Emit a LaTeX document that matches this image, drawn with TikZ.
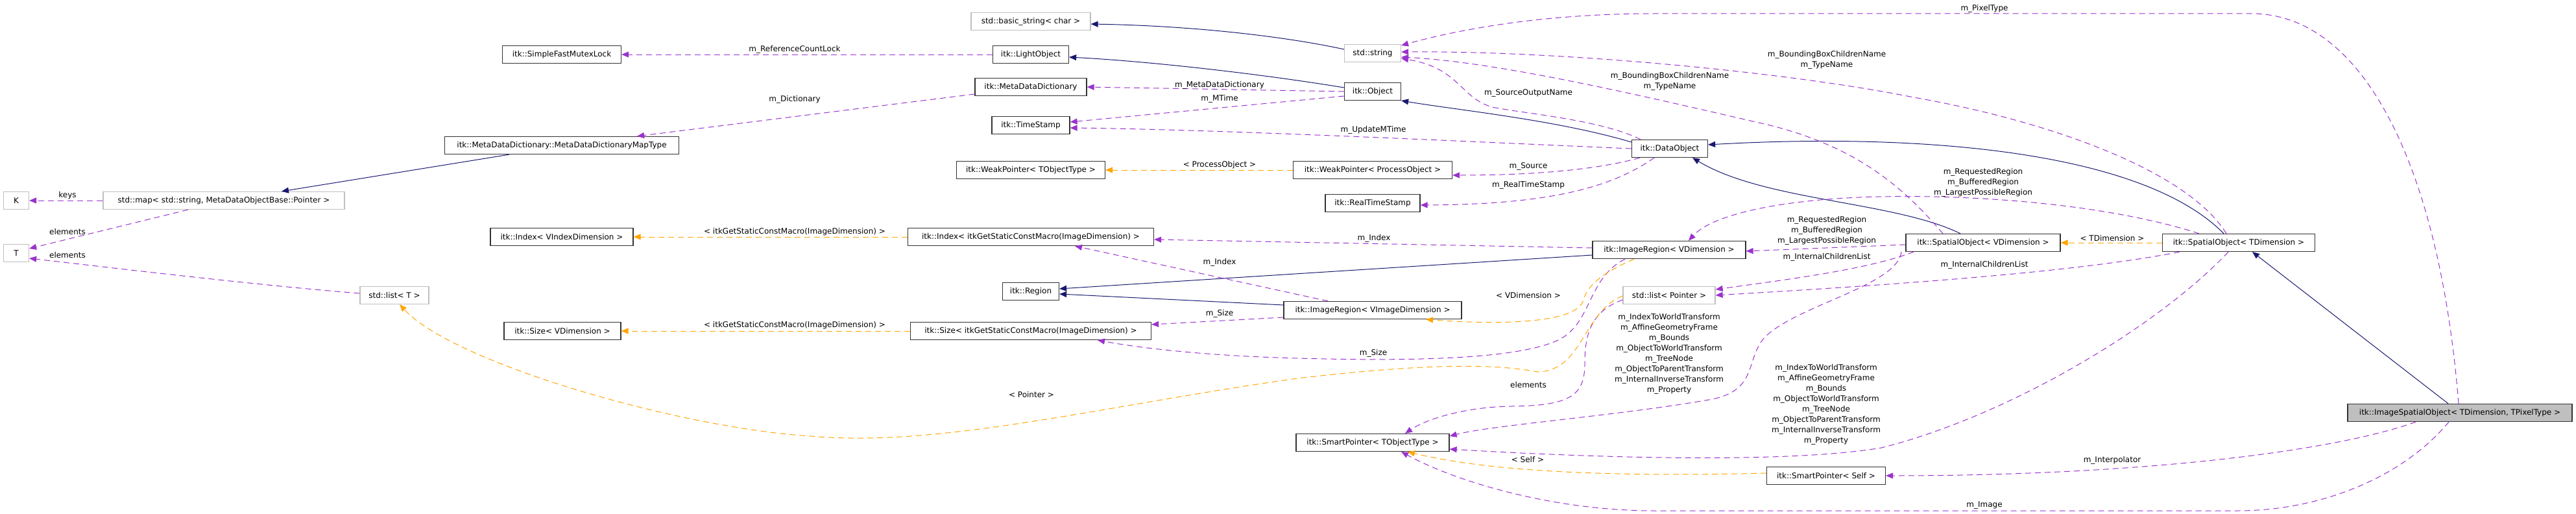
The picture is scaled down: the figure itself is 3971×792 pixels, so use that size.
\documentclass[tikz,border=0pt]{standalone}
\usepackage{fontspec}
\setmainfont{DejaVu Sans}
\usepackage{xcolor}
\usetikzlibrary{arrows.meta}
\definecolor{inhblue}{HTML}{191970}
\definecolor{mempurple}{HTML}{9A32CD}
\definecolor{tplorange}{HTML}{FFA500}
\definecolor{extgray}{HTML}{BFBFBF}
\tikzset{
  cls/.style={draw=black!80,fill=white,line width=1.2pt,minimum height=27pt,inner xsep=4pt,inner ysep=0pt,font=\fontsize{12}{16}\selectfont},
  ext/.style={cls,draw=extgray},
  cur/.style={cls,fill=extgray},
  lbl/.style={font=\fontsize{12}{16}\selectfont,align=center,inner sep=0pt},
  tip/.style={-{Triangle[length=11pt,width=9pt]}},
  inh/.style={tip,color=inhblue,line width=1pt},
  mem/.style={tip,color=mempurple,line width=1pt,dash pattern=on 9pt off 6pt},
  tpl/.style={tip,color=tplorange,line width=1pt,dash pattern=on 9pt off 6pt}
}

\begin{document}
\begin{tikzpicture}[x=1pt,y=-1pt]
\useasboundingbox (0,0) rectangle (3971,792);

\node[ext,minimum width=184pt] (bstr) at (1589,33) {std::basic\_string< char >};
\node[cls,minimum width=183pt] (lock) at (866,84) {itk::SimpleFastMutexLock};
\node[cls,minimum width=117pt] (lobj) at (1589,84) {itk::LightObject};
\node[cls,minimum width=172pt] (mdd) at (1589,134) {itk::MetaDataDictionary};
\node[cls,minimum width=120pt] (tstamp) at (1589,193) {itk::TimeStamp};
\node[cls,minimum width=361pt] (mapt) at (866,224) {itk::MetaDataDictionary::MetaDataDictionaryMapType};
\node[ext,minimum width=87pt] (str) at (2116,82) {std::string};
\node[cls,minimum width=87pt] (obj) at (2116,141) {itk::Object};
\node[cls,minimum width=229pt] (wpt) at (1589,262) {itk::WeakPointer< TObjectType >};
\node[cls,minimum width=245pt] (wpp) at (2116,262) {itk::WeakPointer< ProcessObject >};
\node[cls,minimum width=117pt] (dobj) at (2574,229) {itk::DataObject};
\node[cls,minimum width=146pt] (rts) at (2116,313) {itk::RealTimeStamp};
\node[ext,minimum width=39pt] (keyk) at (25,309) {K};
\node[ext,minimum width=372pt] (smap) at (345,309) {std::map< std::string, MetaDataObjectBase::Pointer >};
\node[ext,minimum width=39pt] (elt) at (25,390) {T};
\node[cls,minimum width=220pt] (idxv) at (866,365) {itk::Index< VIndexDimension >};
\node[cls,minimum width=379pt] (idxm) at (1589,365) {itk::Index< itkGetStaticConstMacro(ImageDimension) >};
\node[cls,minimum width=236pt] (irv) at (2573,385) {itk::ImageRegion< VDimension >};
\node[cls,minimum width=238pt] (sov) at (3057,374) {itk::SpatialObject< VDimension >};
\node[cls,minimum width=235pt] (sot) at (3451,374) {itk::SpatialObject< TDimension >};
\node[cls,minimum width=87pt] (reg) at (1589,449) {itk::Region};
\node[ext,minimum width=106pt] (lstt) at (608,455) {std::list< T >};
\node[ext,minimum width=142pt] (lstp) at (2573,455) {std::list< Pointer >};
\node[cls,minimum width=274pt] (irvi) at (2116,478) {itk::ImageRegion< VImageDimension >};
\node[cls,minimum width=180pt] (szv) at (867,510) {itk::Size< VDimension >};
\node[cls,minimum width=371pt] (szm) at (1589,510) {itk::Size< itkGetStaticConstMacro(ImageDimension) >};
\node[cls,minimum width=236pt] (spt) at (2116,682) {itk::SmartPointer< TObjectType >};
\node[cls,minimum width=183pt] (sps) at (2815,733) {itk::SmartPointer< Self >};
\node[cur,minimum width=346pt] (iso) at (3792,636) {itk::ImageSpatialObject< TDimension, TPixelType >};

% inheritance
\draw[inh] ([yshift=6pt]str.west) .. controls (1990,58) and (1850,40) .. ([yshift=-4pt]bstr.east);
\draw[inh] ([yshift=6pt]obj.west) .. controls (1950,115) and (1780,95) .. ([yshift=-4pt]lobj.east);
\draw[inh] ([yshift=10pt]dobj.west) .. controls (2400,185) and (2250,170) .. (obj.south east);
\draw[inh] ([xshift=-23pt]sot.north) .. controls (3300,230) and (2950,205) .. ([yshift=6pt]dobj.east);
\draw[inh] ([xshift=-35pt]sov.north) .. controls (2920,310) and (2720,310) .. ([xshift=35pt]dobj.south);
\draw[inh] ([yshift=-8pt]irv.west) -- ([yshift=4pt]reg.east);
\draw[inh] ([yshift=8pt]irvi.west) -- ([yshift=-4pt]reg.east);
\draw[inh] ([xshift=-18pt]iso.north) -- ([xshift=21pt]sot.south);
\draw[inh] ([xshift=-81pt]mapt.south) -- ([xshift=89pt]smap.north);

% members
\draw[mem] (lobj.west) -- (lock.east);
\node[lbl] (lreflock) at (1225,76) {m\_ReferenceCountLock};
\draw[mem] ([yshift=-11pt]mdd.west) -- ([xshift=116pt]mapt.north);
\node[lbl] (ldict) at (1225,153) {m\_Dictionary};
\draw[mem] (obj.west) -- (mdd.east);
\node[lbl] (lmdd) at (1880,131) {m\_MetaDataDictionary};
\draw[mem] ([yshift=-7pt]obj.west) -- ([yshift=5pt]tstamp.east);
\node[lbl] (lmtime) at (1880,152) {m\_MTime};
\draw[mem] (dobj.west) .. controls (2300,220) and (1900,200) .. ([yshift=-4pt]tstamp.east);
\node[lbl] (lupd) at (2117,200) {m\_UpdateMTime};
\draw[mem] ([xshift=-45pt]dobj.north) .. controls (2470,185) and (2350,175) .. (2300,165) .. controls (2250,150) and (2250,105) .. ([yshift=-8pt]str.east);
\node[lbl] (lsrcout) at (2356,143) {m\_SourceOutputName};
\draw[mem] ([xshift=-46pt]dobj.south) .. controls (2460,262) and (2360,270) .. ([yshift=-8pt]wpp.east);
\node[lbl] (lsrc) at (2356,256) {m\_Source};
\draw[mem] ([xshift=-24pt]dobj.south) .. controls (2490,285) and (2400,315) .. ([yshift=-3pt]rts.east);
\node[lbl] (lrts) at (2356,285) {m\_RealTimeStamp};
\draw[mem] ([yshift=3pt]irv.west) -- ([yshift=-4pt]idxm.east);
\node[lbl] (lidxa) at (2118,367) {m\_Index};
\draw[mem] ([xshift=-69pt]irvi.north) -- ([xshift=68pt]idxm.south);
\node[lbl] (lidxb) at (1880,404) {m\_Index};
\draw[mem] ([yshift=-11pt]irvi.west) -- ([yshift=10pt]szm.east);
\node[lbl] (lsizeb) at (1880,483) {m\_Size};
\draw[mem] ([xshift=-68pt]irv.south) .. controls (2445,430) and (2455,500) .. (2400,525) .. controls (2330,556) and (2150,556) .. (2000,552) .. controls (1850,548) and (1750,535) .. ([xshift=103pt]szm.south);
\node[lbl] (lsizea) at (2117,544) {m\_Size};
\draw[mem] ([yshift=-7pt]lstp.west) .. controls (2450,480) and (2443,520) .. (2443,560) .. controls (2443,610) and (2420,625) .. (2330,626) .. controls (2260,627) and (2200,645) .. ([xshift=50pt]spt.north);
\node[lbl] (lelemp) at (2356,593) {elements};
\draw[mem] ([xshift=-107pt]sov.south) .. controls (2880,415) and (2760,430) .. ([yshift=9pt]lstp.east);
\node[lbl] (lchilda) at (2816,396) {m\_InternalChildrenList};
\draw[mem] ([xshift=-91pt]sot.south) .. controls (3200,420) and (2900,440) .. (lstp.east);
\node[lbl] (lchildb) at (3059,408) {m\_InternalChildrenList};
\draw[mem] ([yshift=-3pt]sov.west) -- ([yshift=-2pt]irv.east);
\node[lbl] (lrega) at (2816,355) {m\_RequestedRegion\\m\_BufferedRegion\\m\_LargestPossibleRegion};
\draw[mem] ([xshift=-61pt]sot.north) .. controls (3250,315) and (3050,300) .. (2900,303) .. controls (2750,306) and (2640,330) .. ([xshift=30pt]irv.north);
\node[lbl] (lregb) at (3057,281) {m\_RequestedRegion\\m\_BufferedRegion\\m\_LargestPossibleRegion};
\draw[mem] ([xshift=-62pt]sov.north) .. controls (2935,290) and (2860,220) .. (2702,187) .. controls (2500,140) and (2300,95) .. ([yshift=-6pt]str.east);
\node[lbl] (lnamea) at (2574,125) {m\_BoundingBoxChildrenName\\m\_TypeName};
\draw[mem] ([xshift=-19pt]sot.north) .. controls (3370,260) and (3150,185) .. (2950,150) .. controls (2750,110) and (2400,78) .. ([yshift=2pt]str.east);
\node[lbl] (lnameb) at (2816,92) {m\_BoundingBoxChildrenName\\m\_TypeName};
\draw[mem] ([xshift=-2pt]iso.north) .. controls (3760,250) and (3640,21) .. (3471,21) -- (2550,21) .. controls (2380,21) and (2250,45) .. ([yshift=12pt]str.east);
\node[lbl] (lpix) at (3059,13) {m\_PixelType};
\draw[mem] ([xshift=-68pt]iso.south) .. controls (3600,695) and (3300,733) .. (sps.east);
\node[lbl] (linterp) at (3256,709) {m\_Interpolator};
\draw[mem] ([xshift=-17pt]iso.south) .. controls (3700,740) and (3570,787) .. (3450,787) -- (2550,787) .. controls (2400,787) and (2250,745) .. ([xshift=44pt]spt.south);
\node[lbl] (limage) at (3059,779) {m\_Image};
\draw[mem] ([xshift=-126pt]sov.south) .. controls (2925,440) and (2770,470) .. (2720,520) .. controls (2690,555) and (2710,600) .. (2640,615) .. controls (2500,640) and (2300,655) .. ([yshift=10pt]spt.east);
\node[lbl] (ltfa) at (2573,545) {m\_IndexToWorldTransform\\m\_AffineGeometryFrame\\m\_Bounds\\m\_ObjectToWorldTransform\\m\_TreeNode\\m\_ObjectToParentTransform\\m\_InternalInverseTransform\\m\_Property};
\draw[mem] ([xshift=-16pt]sot.south) .. controls (3330,500) and (3100,640) .. (2900,690) .. controls (2750,715) and (2450,705) .. ([yshift=-10pt]spt.east);
\node[lbl] (ltfb) at (2815,623) {m\_IndexToWorldTransform\\m\_AffineGeometryFrame\\m\_Bounds\\m\_ObjectToWorldTransform\\m\_TreeNode\\m\_ObjectToParentTransform\\m\_InternalInverseTransform\\m\_Property};
\draw[mem] (smap.west) -- (keyk.east);
\node[lbl] (lkeys) at (104,301) {keys};
\draw[mem] ([xshift=-55pt]smap.south) -- ([yshift=7pt]elt.east);
\node[lbl] (lelema) at (104,357) {elements};
\draw[mem] ([yshift=3pt]lstt.west) .. controls (400,440) and (150,410) .. ([yshift=-8pt]elt.east);
\node[lbl] (lelemb) at (104,393) {elements};

% template instances
\draw[tpl] (wpp.west) -- (wpt.east);
\node[lbl] (lproc) at (1880,254) {< ProcessObject >};
\draw[tpl] (idxm.west) -- (idxv.east);
\node[lbl] (lidxt) at (1225,357) {< itkGetStaticConstMacro(ImageDimension) >};
\draw[tpl] (szm.west) -- (szv.east);
\node[lbl] (lszt) at (1225,501) {< itkGetStaticConstMacro(ImageDimension) >};
\draw[tpl] (sot.west) -- (sov.east);
\node[lbl] (ltdim) at (3256,367) {< TDimension >};
\draw[tpl] ([xshift=-54pt]irv.south) .. controls (2460,425) and (2445,445) .. (2440,465) .. controls (2425,500) and (2300,500) .. ([xshift=82pt]irvi.south);
\node[lbl] (lvdim) at (2356,455) {< VDimension >};
\draw[tpl] ([yshift=-1pt]lstp.west) .. controls (2440,480) and (2440,572) .. (2370,573) .. controls (2300,560) and (2200,560) .. (2000,583) .. controls (1700,625) and (1450,690) .. (1250,672) .. controls (1050,660) and (700,560) .. ([xshift=8pt]lstt.south);
\node[lbl] (lptr) at (1590,608) {< Pointer >};
\draw[tpl] ([yshift=4pt]sps.west) .. controls (2500,735) and (2300,728) .. ([xshift=54pt]spt.south);
\node[lbl] (lself) at (2355,708) {< Self >};
\end{tikzpicture}
\end{document}
